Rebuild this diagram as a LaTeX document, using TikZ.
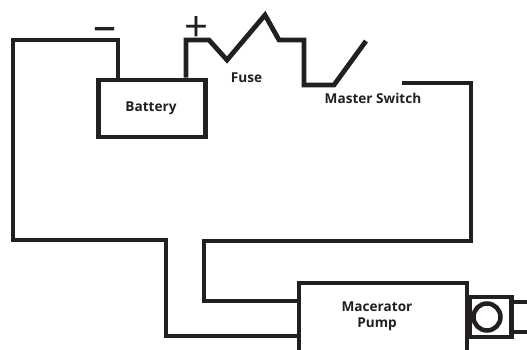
\documentclass[tikz,border=0pt]{standalone}
\usepackage{fontspec}
\setmainfont{Open Sans}
\definecolor{ink}{HTML}{231F20}
\tikzset{
  wire/.style={draw=ink,line width=4.8pt,line join=miter,line cap=butt},
  thin wire/.style={draw=ink,line width=4.2pt,line join=miter,line cap=butt},
  unit/.style={draw=ink,line width=4.8pt,fill=white,rectangle,inner sep=0pt},
  lbl/.style={text=ink,font=\fontsize{13.6}{16}\selectfont\bfseries,align=center,inner sep=0pt},
  sign/.style={text=ink,font=\fontsize{46}{46}\selectfont,inner sep=0pt},
  plus sign/.style={text=ink,font=\fontsize{42}{42}\selectfont,inner sep=0pt}
}
\begin{document}
\begin{tikzpicture}[x=1pt,y=-1pt]
\useasboundingbox (0,0) rectangle (527,349);
\begin{scope}
\clip (0,0) rectangle (527,349);
% wires
\coordinate (negtop) at (118,40);
\coordinate (postop) at (186,40);
\coordinate (swL) at (304,85);
\coordinate (swR) at (334,85);
\coordinate (swTip) at (366,41);
\coordinate (contact) at (402,83);
\coordinate (wireR) at (471,83);
\node[unit,minimum width=107pt,minimum height=57pt] (battery) at (152,108.5) {};
\node[unit,minimum width=168pt,minimum height=94pt] (pump) at (383,330) {};
\node[unit,minimum width=42pt,minimum height=40pt,anchor=west] (head) at (467,317) {};
\node[draw=ink,line width=4.5pt,circle,minimum size=27pt,inner sep=0pt] (rotor) at (487,317) {};
\coordinate (portA) at (527,302);
\coordinate (portB) at (527,332);
\draw[wire] (negtop |- battery.north) -- (negtop) -- (13,40) -- (13,240) -- (166,240) -- (166,336) -- (299,336);
\draw[wire] (postop |- battery.north) -- (postop) -- (209,40) -- (227,60) -- (265,15) -- (279,40) -- (304,40) -- (swL) -- (swR) -- (swTip);
\draw[wire] (contact) -- (wireR) -- (471,241) -- (204,241) -- (204,301) -- (299,301);
\draw[thin wire] (head.east |- portA) -- (portA);
\draw[thin wire] (head.east |- portB) -- (portB);
\end{scope}
\node[lbl] (batteryText) at (151,108) {Battery};
\node[lbl] (fuseText) at (246.5,78) {Fuse};
\node[lbl] (switchText) at (373,98.5) {Master Switch};
\node[lbl] (pumpText) at (377,316) {Macerator\\Pump};
\node[sign] (minusSign) at (104.5,34) {–};
\node[plus sign] (plusSign) at (196.5,29) {+};
\end{tikzpicture}
\end{document}
